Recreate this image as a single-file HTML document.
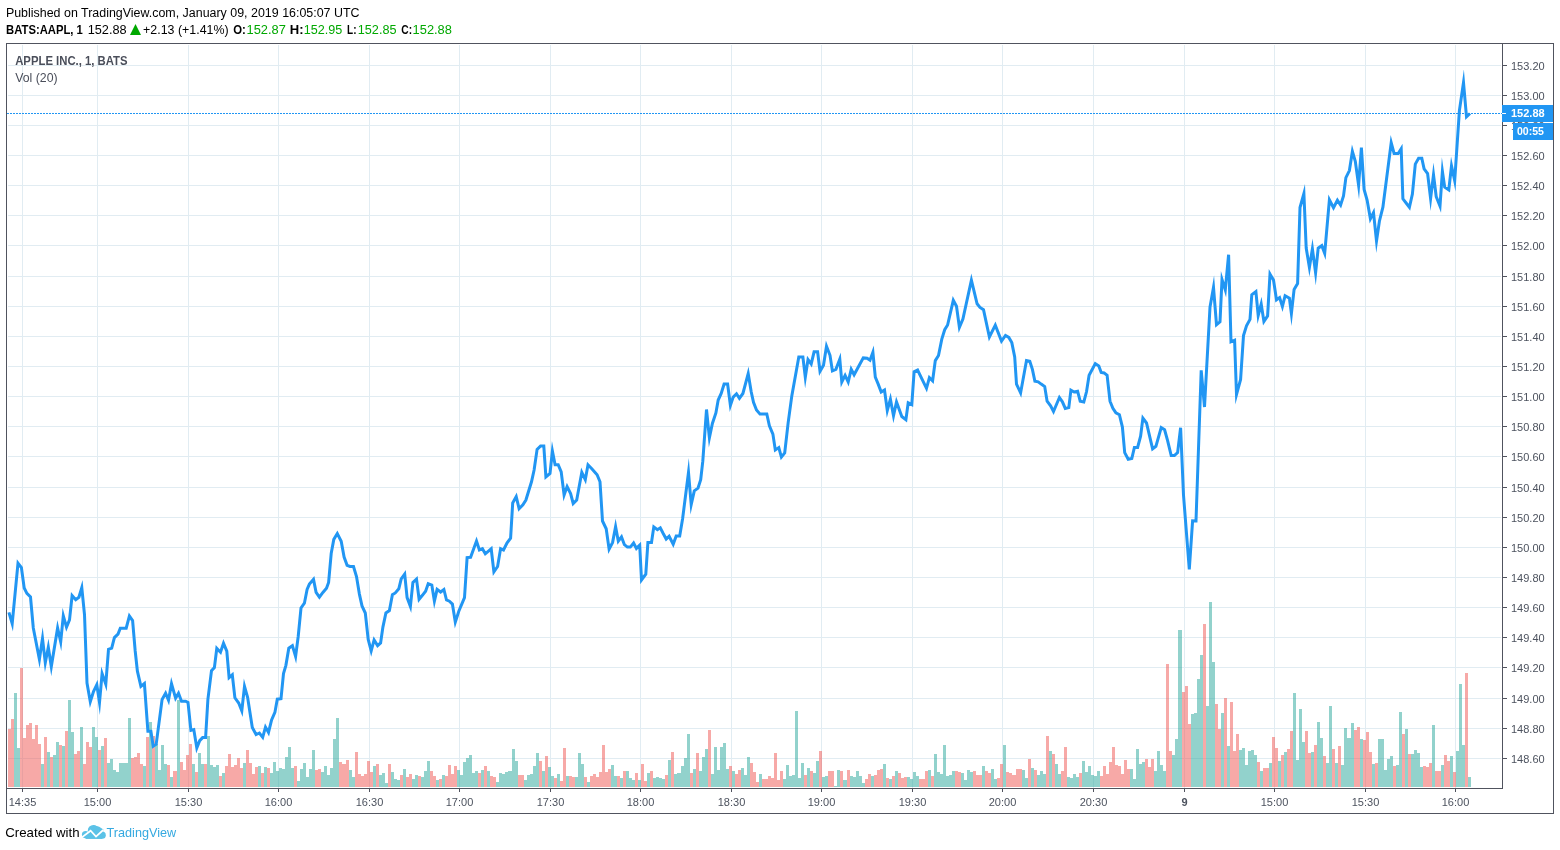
<!DOCTYPE html>
<html><head><meta charset="utf-8">
<style>
html,body{margin:0;padding:0;background:#fff;}
body{width:1560px;height:850px;position:relative;overflow:hidden;font-family:"Liberation Sans",sans-serif;}
.t{position:absolute;white-space:nowrap;color:#000;}
svg.c text{font-family:"Liberation Sans",sans-serif;font-size:11px;}
</style></head><body>
<svg class="c" width="1560" height="850" style="position:absolute;left:0;top:0;will-change:transform">
<rect x="22" y="45" width="1" height="743" fill="#e1ecf2"/>
<rect x="97" y="45" width="1" height="743" fill="#e1ecf2"/>
<rect x="188" y="45" width="1" height="743" fill="#e1ecf2"/>
<rect x="278" y="45" width="1" height="743" fill="#e1ecf2"/>
<rect x="369" y="45" width="1" height="743" fill="#e1ecf2"/>
<rect x="459" y="45" width="1" height="743" fill="#e1ecf2"/>
<rect x="550" y="45" width="1" height="743" fill="#e1ecf2"/>
<rect x="640" y="45" width="1" height="743" fill="#e1ecf2"/>
<rect x="731" y="45" width="1" height="743" fill="#e1ecf2"/>
<rect x="821" y="45" width="1" height="743" fill="#e1ecf2"/>
<rect x="912" y="45" width="1" height="743" fill="#e1ecf2"/>
<rect x="1002" y="45" width="1" height="743" fill="#e1ecf2"/>
<rect x="1093" y="45" width="1" height="743" fill="#e1ecf2"/>
<rect x="1184" y="45" width="1" height="743" fill="#e1ecf2"/>
<rect x="1274" y="45" width="1" height="743" fill="#e1ecf2"/>
<rect x="1365" y="45" width="1" height="743" fill="#e1ecf2"/>
<rect x="1455" y="45" width="1" height="743" fill="#e1ecf2"/>
<rect x="8" y="65" width="1493" height="1" fill="#e1ecf2"/>
<rect x="8" y="95" width="1493" height="1" fill="#e1ecf2"/>
<rect x="8" y="125" width="1493" height="1" fill="#e1ecf2"/>
<rect x="8" y="155" width="1493" height="1" fill="#e1ecf2"/>
<rect x="8" y="185" width="1493" height="1" fill="#e1ecf2"/>
<rect x="8" y="215" width="1493" height="1" fill="#e1ecf2"/>
<rect x="8" y="245" width="1493" height="1" fill="#e1ecf2"/>
<rect x="8" y="276" width="1493" height="1" fill="#e1ecf2"/>
<rect x="8" y="306" width="1493" height="1" fill="#e1ecf2"/>
<rect x="8" y="336" width="1493" height="1" fill="#e1ecf2"/>
<rect x="8" y="366" width="1493" height="1" fill="#e1ecf2"/>
<rect x="8" y="396" width="1493" height="1" fill="#e1ecf2"/>
<rect x="8" y="426" width="1493" height="1" fill="#e1ecf2"/>
<rect x="8" y="456" width="1493" height="1" fill="#e1ecf2"/>
<rect x="8" y="487" width="1493" height="1" fill="#e1ecf2"/>
<rect x="8" y="517" width="1493" height="1" fill="#e1ecf2"/>
<rect x="8" y="547" width="1493" height="1" fill="#e1ecf2"/>
<rect x="8" y="577" width="1493" height="1" fill="#e1ecf2"/>
<rect x="8" y="607" width="1493" height="1" fill="#e1ecf2"/>
<rect x="8" y="637" width="1493" height="1" fill="#e1ecf2"/>
<rect x="8" y="667" width="1493" height="1" fill="#e1ecf2"/>
<rect x="8" y="698" width="1493" height="1" fill="#e1ecf2"/>
<rect x="8" y="728" width="1493" height="1" fill="#e1ecf2"/>
<rect x="8" y="758" width="1493" height="1" fill="#e1ecf2"/>
<rect x="8" y="729" width="3" height="58" fill="rgba(239,83,80,0.5)"/>
<rect x="11" y="719" width="3" height="68" fill="rgba(239,83,80,0.5)"/>
<rect x="14" y="693" width="3" height="94" fill="rgba(38,166,154,0.5)"/>
<rect x="17" y="748" width="3" height="39" fill="rgba(38,166,154,0.5)"/>
<rect x="20" y="668" width="3" height="119" fill="rgba(239,83,80,0.5)"/>
<rect x="23" y="738" width="3" height="49" fill="rgba(239,83,80,0.5)"/>
<rect x="26" y="725" width="3" height="62" fill="rgba(239,83,80,0.5)"/>
<rect x="29" y="723" width="3" height="64" fill="rgba(239,83,80,0.5)"/>
<rect x="32" y="739" width="3" height="48" fill="rgba(239,83,80,0.5)"/>
<rect x="35" y="725" width="3" height="62" fill="rgba(239,83,80,0.5)"/>
<rect x="38" y="744" width="3" height="43" fill="rgba(239,83,80,0.5)"/>
<rect x="41" y="764" width="3" height="23" fill="rgba(38,166,154,0.5)"/>
<rect x="44" y="737" width="3" height="50" fill="rgba(239,83,80,0.5)"/>
<rect x="47" y="752" width="3" height="35" fill="rgba(38,166,154,0.5)"/>
<rect x="50" y="757" width="3" height="30" fill="rgba(239,83,80,0.5)"/>
<rect x="53" y="755" width="3" height="32" fill="rgba(38,166,154,0.5)"/>
<rect x="56" y="742" width="3" height="45" fill="rgba(38,166,154,0.5)"/>
<rect x="59" y="745" width="3" height="42" fill="rgba(239,83,80,0.5)"/>
<rect x="62" y="746" width="3" height="41" fill="rgba(38,166,154,0.5)"/>
<rect x="65" y="731" width="3" height="56" fill="rgba(239,83,80,0.5)"/>
<rect x="68" y="700" width="3" height="87" fill="rgba(38,166,154,0.5)"/>
<rect x="71" y="732" width="3" height="55" fill="rgba(38,166,154,0.5)"/>
<rect x="74" y="754" width="3" height="33" fill="rgba(239,83,80,0.5)"/>
<rect x="77" y="751" width="3" height="36" fill="rgba(239,83,80,0.5)"/>
<rect x="80" y="727" width="3" height="60" fill="rgba(38,166,154,0.5)"/>
<rect x="83" y="764" width="3" height="23" fill="rgba(239,83,80,0.5)"/>
<rect x="86" y="742" width="3" height="45" fill="rgba(239,83,80,0.5)"/>
<rect x="89" y="747" width="3" height="40" fill="rgba(239,83,80,0.5)"/>
<rect x="92" y="727" width="3" height="60" fill="rgba(38,166,154,0.5)"/>
<rect x="95" y="737" width="3" height="50" fill="rgba(38,166,154,0.5)"/>
<rect x="98" y="750" width="3" height="37" fill="rgba(239,83,80,0.5)"/>
<rect x="101" y="746" width="3" height="41" fill="rgba(38,166,154,0.5)"/>
<rect x="104" y="738" width="3" height="49" fill="rgba(239,83,80,0.5)"/>
<rect x="107" y="763" width="3" height="24" fill="rgba(38,166,154,0.5)"/>
<rect x="110" y="759" width="3" height="28" fill="rgba(38,166,154,0.5)"/>
<rect x="113" y="770" width="3" height="17" fill="rgba(38,166,154,0.5)"/>
<rect x="116" y="772" width="3" height="15" fill="rgba(38,166,154,0.5)"/>
<rect x="119" y="763" width="3" height="24" fill="rgba(38,166,154,0.5)"/>
<rect x="122" y="763" width="3" height="24" fill="rgba(38,166,154,0.5)"/>
<rect x="125" y="763" width="3" height="24" fill="rgba(38,166,154,0.5)"/>
<rect x="128" y="718" width="3" height="69" fill="rgba(38,166,154,0.5)"/>
<rect x="131" y="758" width="3" height="29" fill="rgba(239,83,80,0.5)"/>
<rect x="134" y="757" width="3" height="30" fill="rgba(239,83,80,0.5)"/>
<rect x="137" y="753" width="3" height="34" fill="rgba(239,83,80,0.5)"/>
<rect x="140" y="764" width="3" height="23" fill="rgba(239,83,80,0.5)"/>
<rect x="143" y="766" width="3" height="21" fill="rgba(38,166,154,0.5)"/>
<rect x="146" y="737" width="3" height="50" fill="rgba(239,83,80,0.5)"/>
<rect x="149" y="722" width="3" height="65" fill="rgba(38,166,154,0.5)"/>
<rect x="152" y="736" width="3" height="51" fill="rgba(239,83,80,0.5)"/>
<rect x="155" y="744" width="3" height="43" fill="rgba(38,166,154,0.5)"/>
<rect x="158" y="770" width="3" height="17" fill="rgba(38,166,154,0.5)"/>
<rect x="161" y="745" width="3" height="42" fill="rgba(38,166,154,0.5)"/>
<rect x="164" y="764" width="3" height="23" fill="rgba(38,166,154,0.5)"/>
<rect x="167" y="765" width="3" height="22" fill="rgba(239,83,80,0.5)"/>
<rect x="170" y="777" width="3" height="10" fill="rgba(38,166,154,0.5)"/>
<rect x="173" y="771" width="4" height="16" fill="rgba(239,83,80,0.5)"/>
<rect x="177" y="700" width="3" height="87" fill="rgba(38,166,154,0.5)"/>
<rect x="180" y="762" width="3" height="25" fill="rgba(239,83,80,0.5)"/>
<rect x="183" y="770" width="3" height="17" fill="rgba(239,83,80,0.5)"/>
<rect x="186" y="755" width="3" height="32" fill="rgba(239,83,80,0.5)"/>
<rect x="189" y="744" width="3" height="43" fill="rgba(239,83,80,0.5)"/>
<rect x="192" y="764" width="3" height="23" fill="rgba(38,166,154,0.5)"/>
<rect x="195" y="772" width="3" height="15" fill="rgba(239,83,80,0.5)"/>
<rect x="198" y="753" width="3" height="34" fill="rgba(38,166,154,0.5)"/>
<rect x="201" y="764" width="3" height="23" fill="rgba(38,166,154,0.5)"/>
<rect x="204" y="764" width="3" height="23" fill="rgba(239,83,80,0.5)"/>
<rect x="207" y="736" width="3" height="51" fill="rgba(38,166,154,0.5)"/>
<rect x="210" y="765" width="3" height="22" fill="rgba(38,166,154,0.5)"/>
<rect x="213" y="767" width="3" height="20" fill="rgba(38,166,154,0.5)"/>
<rect x="216" y="765" width="3" height="22" fill="rgba(38,166,154,0.5)"/>
<rect x="219" y="776" width="3" height="11" fill="rgba(239,83,80,0.5)"/>
<rect x="222" y="773" width="3" height="14" fill="rgba(38,166,154,0.5)"/>
<rect x="225" y="766" width="3" height="21" fill="rgba(239,83,80,0.5)"/>
<rect x="228" y="754" width="3" height="33" fill="rgba(239,83,80,0.5)"/>
<rect x="231" y="767" width="3" height="20" fill="rgba(239,83,80,0.5)"/>
<rect x="234" y="765" width="3" height="22" fill="rgba(239,83,80,0.5)"/>
<rect x="237" y="758" width="3" height="29" fill="rgba(239,83,80,0.5)"/>
<rect x="240" y="768" width="3" height="19" fill="rgba(239,83,80,0.5)"/>
<rect x="243" y="763" width="3" height="24" fill="rgba(38,166,154,0.5)"/>
<rect x="246" y="750" width="3" height="37" fill="rgba(239,83,80,0.5)"/>
<rect x="249" y="763" width="3" height="24" fill="rgba(239,83,80,0.5)"/>
<rect x="252" y="774" width="3" height="13" fill="rgba(239,83,80,0.5)"/>
<rect x="255" y="767" width="3" height="20" fill="rgba(239,83,80,0.5)"/>
<rect x="258" y="766" width="3" height="21" fill="rgba(38,166,154,0.5)"/>
<rect x="261" y="773" width="3" height="14" fill="rgba(239,83,80,0.5)"/>
<rect x="264" y="767" width="3" height="20" fill="rgba(38,166,154,0.5)"/>
<rect x="267" y="768" width="3" height="19" fill="rgba(239,83,80,0.5)"/>
<rect x="270" y="773" width="3" height="14" fill="rgba(38,166,154,0.5)"/>
<rect x="273" y="762" width="3" height="25" fill="rgba(38,166,154,0.5)"/>
<rect x="276" y="771" width="3" height="16" fill="rgba(38,166,154,0.5)"/>
<rect x="279" y="768" width="3" height="19" fill="rgba(38,166,154,0.5)"/>
<rect x="282" y="769" width="3" height="18" fill="rgba(38,166,154,0.5)"/>
<rect x="285" y="757" width="3" height="30" fill="rgba(38,166,154,0.5)"/>
<rect x="288" y="747" width="3" height="40" fill="rgba(38,166,154,0.5)"/>
<rect x="291" y="768" width="3" height="19" fill="rgba(38,166,154,0.5)"/>
<rect x="294" y="766" width="3" height="21" fill="rgba(239,83,80,0.5)"/>
<rect x="297" y="781" width="3" height="6" fill="rgba(38,166,154,0.5)"/>
<rect x="300" y="769" width="3" height="18" fill="rgba(38,166,154,0.5)"/>
<rect x="303" y="763" width="3" height="24" fill="rgba(38,166,154,0.5)"/>
<rect x="306" y="777" width="3" height="10" fill="rgba(38,166,154,0.5)"/>
<rect x="309" y="769" width="3" height="18" fill="rgba(38,166,154,0.5)"/>
<rect x="312" y="750" width="3" height="37" fill="rgba(38,166,154,0.5)"/>
<rect x="315" y="770" width="3" height="17" fill="rgba(239,83,80,0.5)"/>
<rect x="318" y="769" width="3" height="18" fill="rgba(239,83,80,0.5)"/>
<rect x="321" y="772" width="3" height="15" fill="rgba(38,166,154,0.5)"/>
<rect x="324" y="766" width="3" height="21" fill="rgba(38,166,154,0.5)"/>
<rect x="327" y="775" width="3" height="12" fill="rgba(38,166,154,0.5)"/>
<rect x="330" y="768" width="3" height="19" fill="rgba(38,166,154,0.5)"/>
<rect x="333" y="739" width="3" height="48" fill="rgba(38,166,154,0.5)"/>
<rect x="336" y="718" width="3" height="69" fill="rgba(38,166,154,0.5)"/>
<rect x="339" y="762" width="3" height="25" fill="rgba(239,83,80,0.5)"/>
<rect x="342" y="764" width="4" height="23" fill="rgba(239,83,80,0.5)"/>
<rect x="346" y="760" width="3" height="27" fill="rgba(239,83,80,0.5)"/>
<rect x="349" y="770" width="3" height="17" fill="rgba(38,166,154,0.5)"/>
<rect x="352" y="777" width="3" height="10" fill="rgba(38,166,154,0.5)"/>
<rect x="355" y="752" width="3" height="35" fill="rgba(239,83,80,0.5)"/>
<rect x="358" y="774" width="3" height="13" fill="rgba(239,83,80,0.5)"/>
<rect x="361" y="776" width="3" height="11" fill="rgba(239,83,80,0.5)"/>
<rect x="364" y="774" width="3" height="13" fill="rgba(239,83,80,0.5)"/>
<rect x="367" y="761" width="3" height="26" fill="rgba(239,83,80,0.5)"/>
<rect x="370" y="772" width="3" height="15" fill="rgba(239,83,80,0.5)"/>
<rect x="373" y="766" width="3" height="21" fill="rgba(38,166,154,0.5)"/>
<rect x="376" y="764" width="3" height="23" fill="rgba(239,83,80,0.5)"/>
<rect x="379" y="775" width="3" height="12" fill="rgba(38,166,154,0.5)"/>
<rect x="382" y="773" width="3" height="14" fill="rgba(38,166,154,0.5)"/>
<rect x="385" y="783" width="3" height="4" fill="rgba(38,166,154,0.5)"/>
<rect x="388" y="764" width="3" height="23" fill="rgba(239,83,80,0.5)"/>
<rect x="391" y="772" width="3" height="15" fill="rgba(38,166,154,0.5)"/>
<rect x="394" y="779" width="3" height="8" fill="rgba(38,166,154,0.5)"/>
<rect x="397" y="780" width="3" height="7" fill="rgba(38,166,154,0.5)"/>
<rect x="400" y="775" width="3" height="12" fill="rgba(239,83,80,0.5)"/>
<rect x="403" y="769" width="3" height="18" fill="rgba(38,166,154,0.5)"/>
<rect x="406" y="777" width="3" height="10" fill="rgba(239,83,80,0.5)"/>
<rect x="409" y="774" width="3" height="13" fill="rgba(239,83,80,0.5)"/>
<rect x="412" y="779" width="3" height="8" fill="rgba(38,166,154,0.5)"/>
<rect x="415" y="775" width="3" height="12" fill="rgba(38,166,154,0.5)"/>
<rect x="418" y="776" width="3" height="11" fill="rgba(239,83,80,0.5)"/>
<rect x="421" y="777" width="3" height="10" fill="rgba(38,166,154,0.5)"/>
<rect x="424" y="771" width="3" height="16" fill="rgba(38,166,154,0.5)"/>
<rect x="427" y="761" width="3" height="26" fill="rgba(38,166,154,0.5)"/>
<rect x="430" y="771" width="3" height="16" fill="rgba(239,83,80,0.5)"/>
<rect x="433" y="776" width="3" height="11" fill="rgba(239,83,80,0.5)"/>
<rect x="436" y="780" width="3" height="7" fill="rgba(38,166,154,0.5)"/>
<rect x="439" y="779" width="3" height="8" fill="rgba(239,83,80,0.5)"/>
<rect x="442" y="775" width="3" height="12" fill="rgba(38,166,154,0.5)"/>
<rect x="445" y="776" width="3" height="11" fill="rgba(239,83,80,0.5)"/>
<rect x="448" y="765" width="3" height="22" fill="rgba(239,83,80,0.5)"/>
<rect x="451" y="774" width="3" height="13" fill="rgba(239,83,80,0.5)"/>
<rect x="454" y="766" width="3" height="21" fill="rgba(239,83,80,0.5)"/>
<rect x="457" y="770" width="3" height="17" fill="rgba(38,166,154,0.5)"/>
<rect x="460" y="775" width="3" height="12" fill="rgba(38,166,154,0.5)"/>
<rect x="463" y="762" width="3" height="25" fill="rgba(38,166,154,0.5)"/>
<rect x="466" y="758" width="3" height="29" fill="rgba(38,166,154,0.5)"/>
<rect x="469" y="755" width="3" height="32" fill="rgba(38,166,154,0.5)"/>
<rect x="472" y="773" width="3" height="14" fill="rgba(38,166,154,0.5)"/>
<rect x="475" y="771" width="3" height="16" fill="rgba(38,166,154,0.5)"/>
<rect x="478" y="773" width="3" height="14" fill="rgba(239,83,80,0.5)"/>
<rect x="481" y="770" width="3" height="17" fill="rgba(38,166,154,0.5)"/>
<rect x="484" y="766" width="3" height="21" fill="rgba(239,83,80,0.5)"/>
<rect x="487" y="771" width="3" height="16" fill="rgba(38,166,154,0.5)"/>
<rect x="490" y="776" width="3" height="11" fill="rgba(239,83,80,0.5)"/>
<rect x="493" y="777" width="3" height="10" fill="rgba(239,83,80,0.5)"/>
<rect x="496" y="782" width="3" height="5" fill="rgba(38,166,154,0.5)"/>
<rect x="499" y="773" width="3" height="14" fill="rgba(38,166,154,0.5)"/>
<rect x="502" y="774" width="3" height="13" fill="rgba(38,166,154,0.5)"/>
<rect x="505" y="772" width="3" height="15" fill="rgba(38,166,154,0.5)"/>
<rect x="508" y="771" width="4" height="16" fill="rgba(38,166,154,0.5)"/>
<rect x="512" y="749" width="3" height="38" fill="rgba(38,166,154,0.5)"/>
<rect x="515" y="761" width="3" height="26" fill="rgba(38,166,154,0.5)"/>
<rect x="518" y="775" width="3" height="12" fill="rgba(239,83,80,0.5)"/>
<rect x="521" y="775" width="3" height="12" fill="rgba(239,83,80,0.5)"/>
<rect x="524" y="780" width="3" height="7" fill="rgba(38,166,154,0.5)"/>
<rect x="527" y="775" width="3" height="12" fill="rgba(38,166,154,0.5)"/>
<rect x="530" y="774" width="3" height="13" fill="rgba(38,166,154,0.5)"/>
<rect x="533" y="766" width="3" height="21" fill="rgba(38,166,154,0.5)"/>
<rect x="536" y="753" width="3" height="34" fill="rgba(38,166,154,0.5)"/>
<rect x="539" y="761" width="3" height="26" fill="rgba(239,83,80,0.5)"/>
<rect x="542" y="771" width="3" height="16" fill="rgba(38,166,154,0.5)"/>
<rect x="545" y="756" width="3" height="31" fill="rgba(239,83,80,0.5)"/>
<rect x="548" y="767" width="3" height="20" fill="rgba(38,166,154,0.5)"/>
<rect x="551" y="776" width="3" height="11" fill="rgba(38,166,154,0.5)"/>
<rect x="554" y="778" width="3" height="9" fill="rgba(239,83,80,0.5)"/>
<rect x="557" y="774" width="3" height="13" fill="rgba(38,166,154,0.5)"/>
<rect x="560" y="781" width="3" height="6" fill="rgba(239,83,80,0.5)"/>
<rect x="563" y="748" width="3" height="39" fill="rgba(239,83,80,0.5)"/>
<rect x="566" y="776" width="3" height="11" fill="rgba(38,166,154,0.5)"/>
<rect x="569" y="776" width="3" height="11" fill="rgba(239,83,80,0.5)"/>
<rect x="572" y="777" width="3" height="10" fill="rgba(239,83,80,0.5)"/>
<rect x="575" y="777" width="3" height="10" fill="rgba(38,166,154,0.5)"/>
<rect x="578" y="753" width="3" height="34" fill="rgba(38,166,154,0.5)"/>
<rect x="581" y="764" width="3" height="23" fill="rgba(38,166,154,0.5)"/>
<rect x="584" y="777" width="3" height="10" fill="rgba(239,83,80,0.5)"/>
<rect x="587" y="782" width="3" height="5" fill="rgba(38,166,154,0.5)"/>
<rect x="590" y="776" width="3" height="11" fill="rgba(239,83,80,0.5)"/>
<rect x="593" y="774" width="3" height="13" fill="rgba(239,83,80,0.5)"/>
<rect x="596" y="777" width="3" height="10" fill="rgba(239,83,80,0.5)"/>
<rect x="599" y="772" width="3" height="15" fill="rgba(239,83,80,0.5)"/>
<rect x="602" y="745" width="3" height="42" fill="rgba(239,83,80,0.5)"/>
<rect x="605" y="772" width="3" height="15" fill="rgba(239,83,80,0.5)"/>
<rect x="608" y="769" width="3" height="18" fill="rgba(239,83,80,0.5)"/>
<rect x="611" y="765" width="3" height="22" fill="rgba(38,166,154,0.5)"/>
<rect x="614" y="776" width="3" height="11" fill="rgba(38,166,154,0.5)"/>
<rect x="617" y="776" width="3" height="11" fill="rgba(239,83,80,0.5)"/>
<rect x="620" y="778" width="3" height="9" fill="rgba(38,166,154,0.5)"/>
<rect x="623" y="771" width="3" height="16" fill="rgba(239,83,80,0.5)"/>
<rect x="626" y="771" width="3" height="16" fill="rgba(38,166,154,0.5)"/>
<rect x="629" y="778" width="3" height="9" fill="rgba(38,166,154,0.5)"/>
<rect x="632" y="780" width="3" height="7" fill="rgba(38,166,154,0.5)"/>
<rect x="635" y="773" width="3" height="14" fill="rgba(239,83,80,0.5)"/>
<rect x="638" y="780" width="3" height="7" fill="rgba(38,166,154,0.5)"/>
<rect x="641" y="764" width="3" height="23" fill="rgba(239,83,80,0.5)"/>
<rect x="644" y="781" width="3" height="6" fill="rgba(239,83,80,0.5)"/>
<rect x="647" y="773" width="3" height="14" fill="rgba(38,166,154,0.5)"/>
<rect x="650" y="771" width="3" height="16" fill="rgba(239,83,80,0.5)"/>
<rect x="653" y="778" width="3" height="9" fill="rgba(38,166,154,0.5)"/>
<rect x="656" y="777" width="3" height="10" fill="rgba(38,166,154,0.5)"/>
<rect x="659" y="778" width="3" height="9" fill="rgba(38,166,154,0.5)"/>
<rect x="662" y="779" width="3" height="8" fill="rgba(38,166,154,0.5)"/>
<rect x="665" y="775" width="3" height="12" fill="rgba(239,83,80,0.5)"/>
<rect x="668" y="760" width="3" height="27" fill="rgba(38,166,154,0.5)"/>
<rect x="671" y="752" width="3" height="35" fill="rgba(239,83,80,0.5)"/>
<rect x="674" y="774" width="3" height="13" fill="rgba(38,166,154,0.5)"/>
<rect x="677" y="773" width="4" height="14" fill="rgba(38,166,154,0.5)"/>
<rect x="681" y="766" width="3" height="21" fill="rgba(38,166,154,0.5)"/>
<rect x="684" y="758" width="3" height="29" fill="rgba(38,166,154,0.5)"/>
<rect x="687" y="734" width="3" height="53" fill="rgba(38,166,154,0.5)"/>
<rect x="690" y="773" width="3" height="14" fill="rgba(239,83,80,0.5)"/>
<rect x="693" y="769" width="3" height="18" fill="rgba(38,166,154,0.5)"/>
<rect x="696" y="753" width="3" height="34" fill="rgba(239,83,80,0.5)"/>
<rect x="699" y="771" width="3" height="16" fill="rgba(38,166,154,0.5)"/>
<rect x="702" y="757" width="3" height="30" fill="rgba(38,166,154,0.5)"/>
<rect x="705" y="749" width="3" height="38" fill="rgba(38,166,154,0.5)"/>
<rect x="708" y="730" width="3" height="57" fill="rgba(239,83,80,0.5)"/>
<rect x="711" y="774" width="3" height="13" fill="rgba(38,166,154,0.5)"/>
<rect x="714" y="747" width="3" height="40" fill="rgba(38,166,154,0.5)"/>
<rect x="717" y="770" width="3" height="17" fill="rgba(38,166,154,0.5)"/>
<rect x="720" y="747" width="3" height="40" fill="rgba(38,166,154,0.5)"/>
<rect x="723" y="743" width="3" height="44" fill="rgba(38,166,154,0.5)"/>
<rect x="726" y="769" width="3" height="18" fill="rgba(38,166,154,0.5)"/>
<rect x="729" y="766" width="3" height="21" fill="rgba(239,83,80,0.5)"/>
<rect x="732" y="771" width="3" height="16" fill="rgba(38,166,154,0.5)"/>
<rect x="735" y="774" width="3" height="13" fill="rgba(239,83,80,0.5)"/>
<rect x="738" y="770" width="3" height="17" fill="rgba(239,83,80,0.5)"/>
<rect x="741" y="768" width="3" height="19" fill="rgba(38,166,154,0.5)"/>
<rect x="744" y="775" width="3" height="12" fill="rgba(38,166,154,0.5)"/>
<rect x="747" y="757" width="3" height="30" fill="rgba(38,166,154,0.5)"/>
<rect x="750" y="763" width="3" height="24" fill="rgba(239,83,80,0.5)"/>
<rect x="753" y="772" width="3" height="15" fill="rgba(239,83,80,0.5)"/>
<rect x="756" y="782" width="3" height="5" fill="rgba(239,83,80,0.5)"/>
<rect x="759" y="774" width="3" height="13" fill="rgba(38,166,154,0.5)"/>
<rect x="762" y="779" width="3" height="8" fill="rgba(239,83,80,0.5)"/>
<rect x="765" y="779" width="3" height="8" fill="rgba(239,83,80,0.5)"/>
<rect x="768" y="776" width="3" height="11" fill="rgba(239,83,80,0.5)"/>
<rect x="771" y="778" width="3" height="9" fill="rgba(239,83,80,0.5)"/>
<rect x="774" y="753" width="3" height="34" fill="rgba(239,83,80,0.5)"/>
<rect x="777" y="780" width="3" height="7" fill="rgba(239,83,80,0.5)"/>
<rect x="780" y="771" width="3" height="16" fill="rgba(239,83,80,0.5)"/>
<rect x="783" y="779" width="3" height="8" fill="rgba(38,166,154,0.5)"/>
<rect x="786" y="765" width="3" height="22" fill="rgba(38,166,154,0.5)"/>
<rect x="789" y="776" width="3" height="11" fill="rgba(38,166,154,0.5)"/>
<rect x="792" y="775" width="3" height="12" fill="rgba(38,166,154,0.5)"/>
<rect x="795" y="711" width="3" height="76" fill="rgba(38,166,154,0.5)"/>
<rect x="798" y="778" width="3" height="9" fill="rgba(38,166,154,0.5)"/>
<rect x="801" y="763" width="3" height="24" fill="rgba(38,166,154,0.5)"/>
<rect x="804" y="775" width="3" height="12" fill="rgba(239,83,80,0.5)"/>
<rect x="807" y="768" width="3" height="19" fill="rgba(38,166,154,0.5)"/>
<rect x="810" y="771" width="3" height="16" fill="rgba(239,83,80,0.5)"/>
<rect x="813" y="773" width="3" height="14" fill="rgba(38,166,154,0.5)"/>
<rect x="816" y="761" width="3" height="26" fill="rgba(38,166,154,0.5)"/>
<rect x="819" y="751" width="3" height="36" fill="rgba(239,83,80,0.5)"/>
<rect x="822" y="777" width="3" height="10" fill="rgba(38,166,154,0.5)"/>
<rect x="825" y="776" width="3" height="11" fill="rgba(38,166,154,0.5)"/>
<rect x="828" y="771" width="3" height="16" fill="rgba(239,83,80,0.5)"/>
<rect x="831" y="771" width="3" height="16" fill="rgba(239,83,80,0.5)"/>
<rect x="834" y="786" width="3" height="1" fill="rgba(38,166,154,0.5)"/>
<rect x="837" y="770" width="3" height="17" fill="rgba(38,166,154,0.5)"/>
<rect x="840" y="771" width="3" height="16" fill="rgba(239,83,80,0.5)"/>
<rect x="843" y="780" width="4" height="7" fill="rgba(38,166,154,0.5)"/>
<rect x="847" y="770" width="3" height="17" fill="rgba(239,83,80,0.5)"/>
<rect x="850" y="776" width="3" height="11" fill="rgba(38,166,154,0.5)"/>
<rect x="853" y="777" width="3" height="10" fill="rgba(38,166,154,0.5)"/>
<rect x="856" y="771" width="3" height="16" fill="rgba(38,166,154,0.5)"/>
<rect x="859" y="776" width="3" height="11" fill="rgba(38,166,154,0.5)"/>
<rect x="862" y="783" width="3" height="4" fill="rgba(38,166,154,0.5)"/>
<rect x="865" y="779" width="3" height="8" fill="rgba(239,83,80,0.5)"/>
<rect x="868" y="774" width="3" height="13" fill="rgba(239,83,80,0.5)"/>
<rect x="871" y="776" width="3" height="11" fill="rgba(38,166,154,0.5)"/>
<rect x="874" y="775" width="3" height="12" fill="rgba(239,83,80,0.5)"/>
<rect x="877" y="770" width="3" height="17" fill="rgba(239,83,80,0.5)"/>
<rect x="880" y="769" width="3" height="18" fill="rgba(239,83,80,0.5)"/>
<rect x="883" y="764" width="3" height="23" fill="rgba(38,166,154,0.5)"/>
<rect x="886" y="778" width="3" height="9" fill="rgba(239,83,80,0.5)"/>
<rect x="889" y="779" width="3" height="8" fill="rgba(38,166,154,0.5)"/>
<rect x="892" y="776" width="3" height="11" fill="rgba(239,83,80,0.5)"/>
<rect x="895" y="771" width="3" height="16" fill="rgba(38,166,154,0.5)"/>
<rect x="898" y="773" width="3" height="14" fill="rgba(239,83,80,0.5)"/>
<rect x="901" y="778" width="3" height="9" fill="rgba(239,83,80,0.5)"/>
<rect x="904" y="777" width="3" height="10" fill="rgba(239,83,80,0.5)"/>
<rect x="907" y="777" width="3" height="10" fill="rgba(38,166,154,0.5)"/>
<rect x="910" y="779" width="3" height="8" fill="rgba(38,166,154,0.5)"/>
<rect x="913" y="772" width="3" height="15" fill="rgba(38,166,154,0.5)"/>
<rect x="916" y="776" width="3" height="11" fill="rgba(38,166,154,0.5)"/>
<rect x="919" y="779" width="3" height="8" fill="rgba(239,83,80,0.5)"/>
<rect x="922" y="779" width="3" height="8" fill="rgba(239,83,80,0.5)"/>
<rect x="925" y="771" width="3" height="16" fill="rgba(239,83,80,0.5)"/>
<rect x="928" y="770" width="3" height="17" fill="rgba(38,166,154,0.5)"/>
<rect x="931" y="776" width="3" height="11" fill="rgba(239,83,80,0.5)"/>
<rect x="934" y="754" width="3" height="33" fill="rgba(38,166,154,0.5)"/>
<rect x="937" y="772" width="3" height="15" fill="rgba(38,166,154,0.5)"/>
<rect x="940" y="774" width="3" height="13" fill="rgba(38,166,154,0.5)"/>
<rect x="943" y="745" width="3" height="42" fill="rgba(38,166,154,0.5)"/>
<rect x="946" y="776" width="3" height="11" fill="rgba(38,166,154,0.5)"/>
<rect x="949" y="775" width="3" height="12" fill="rgba(38,166,154,0.5)"/>
<rect x="952" y="771" width="3" height="16" fill="rgba(38,166,154,0.5)"/>
<rect x="955" y="771" width="3" height="16" fill="rgba(239,83,80,0.5)"/>
<rect x="958" y="772" width="3" height="15" fill="rgba(239,83,80,0.5)"/>
<rect x="961" y="773" width="3" height="14" fill="rgba(38,166,154,0.5)"/>
<rect x="964" y="780" width="3" height="7" fill="rgba(38,166,154,0.5)"/>
<rect x="967" y="770" width="3" height="17" fill="rgba(38,166,154,0.5)"/>
<rect x="970" y="772" width="3" height="15" fill="rgba(38,166,154,0.5)"/>
<rect x="973" y="771" width="3" height="16" fill="rgba(239,83,80,0.5)"/>
<rect x="976" y="775" width="3" height="12" fill="rgba(239,83,80,0.5)"/>
<rect x="979" y="775" width="3" height="12" fill="rgba(239,83,80,0.5)"/>
<rect x="982" y="766" width="3" height="21" fill="rgba(38,166,154,0.5)"/>
<rect x="985" y="771" width="3" height="16" fill="rgba(239,83,80,0.5)"/>
<rect x="988" y="773" width="3" height="14" fill="rgba(239,83,80,0.5)"/>
<rect x="991" y="769" width="3" height="18" fill="rgba(38,166,154,0.5)"/>
<rect x="994" y="779" width="3" height="8" fill="rgba(38,166,154,0.5)"/>
<rect x="997" y="778" width="3" height="9" fill="rgba(239,83,80,0.5)"/>
<rect x="1000" y="764" width="3" height="23" fill="rgba(239,83,80,0.5)"/>
<rect x="1003" y="745" width="3" height="42" fill="rgba(38,166,154,0.5)"/>
<rect x="1006" y="772" width="3" height="15" fill="rgba(239,83,80,0.5)"/>
<rect x="1009" y="773" width="3" height="14" fill="rgba(239,83,80,0.5)"/>
<rect x="1012" y="775" width="4" height="12" fill="rgba(239,83,80,0.5)"/>
<rect x="1016" y="769" width="3" height="18" fill="rgba(239,83,80,0.5)"/>
<rect x="1019" y="769" width="3" height="18" fill="rgba(239,83,80,0.5)"/>
<rect x="1022" y="770" width="3" height="17" fill="rgba(38,166,154,0.5)"/>
<rect x="1025" y="778" width="3" height="9" fill="rgba(38,166,154,0.5)"/>
<rect x="1028" y="759" width="3" height="28" fill="rgba(239,83,80,0.5)"/>
<rect x="1031" y="768" width="3" height="19" fill="rgba(38,166,154,0.5)"/>
<rect x="1034" y="770" width="3" height="17" fill="rgba(239,83,80,0.5)"/>
<rect x="1037" y="775" width="3" height="12" fill="rgba(38,166,154,0.5)"/>
<rect x="1040" y="771" width="3" height="16" fill="rgba(38,166,154,0.5)"/>
<rect x="1043" y="774" width="3" height="13" fill="rgba(38,166,154,0.5)"/>
<rect x="1046" y="736" width="3" height="51" fill="rgba(239,83,80,0.5)"/>
<rect x="1049" y="751" width="3" height="36" fill="rgba(38,166,154,0.5)"/>
<rect x="1052" y="754" width="3" height="33" fill="rgba(239,83,80,0.5)"/>
<rect x="1055" y="764" width="3" height="23" fill="rgba(38,166,154,0.5)"/>
<rect x="1058" y="774" width="3" height="13" fill="rgba(38,166,154,0.5)"/>
<rect x="1061" y="771" width="3" height="16" fill="rgba(239,83,80,0.5)"/>
<rect x="1064" y="747" width="3" height="40" fill="rgba(239,83,80,0.5)"/>
<rect x="1067" y="777" width="3" height="10" fill="rgba(38,166,154,0.5)"/>
<rect x="1070" y="778" width="3" height="9" fill="rgba(38,166,154,0.5)"/>
<rect x="1073" y="774" width="3" height="13" fill="rgba(38,166,154,0.5)"/>
<rect x="1076" y="777" width="3" height="10" fill="rgba(38,166,154,0.5)"/>
<rect x="1079" y="773" width="3" height="14" fill="rgba(239,83,80,0.5)"/>
<rect x="1082" y="761" width="3" height="26" fill="rgba(38,166,154,0.5)"/>
<rect x="1085" y="772" width="3" height="15" fill="rgba(38,166,154,0.5)"/>
<rect x="1088" y="766" width="3" height="21" fill="rgba(38,166,154,0.5)"/>
<rect x="1091" y="775" width="3" height="12" fill="rgba(38,166,154,0.5)"/>
<rect x="1094" y="776" width="3" height="11" fill="rgba(38,166,154,0.5)"/>
<rect x="1097" y="771" width="3" height="16" fill="rgba(38,166,154,0.5)"/>
<rect x="1100" y="776" width="3" height="11" fill="rgba(239,83,80,0.5)"/>
<rect x="1103" y="766" width="3" height="21" fill="rgba(239,83,80,0.5)"/>
<rect x="1106" y="774" width="3" height="13" fill="rgba(239,83,80,0.5)"/>
<rect x="1109" y="762" width="3" height="25" fill="rgba(239,83,80,0.5)"/>
<rect x="1112" y="747" width="3" height="40" fill="rgba(239,83,80,0.5)"/>
<rect x="1115" y="765" width="3" height="22" fill="rgba(239,83,80,0.5)"/>
<rect x="1118" y="766" width="3" height="21" fill="rgba(239,83,80,0.5)"/>
<rect x="1121" y="774" width="3" height="13" fill="rgba(239,83,80,0.5)"/>
<rect x="1124" y="760" width="3" height="27" fill="rgba(239,83,80,0.5)"/>
<rect x="1127" y="769" width="3" height="18" fill="rgba(239,83,80,0.5)"/>
<rect x="1130" y="769" width="3" height="18" fill="rgba(38,166,154,0.5)"/>
<rect x="1133" y="779" width="3" height="8" fill="rgba(38,166,154,0.5)"/>
<rect x="1136" y="749" width="3" height="38" fill="rgba(38,166,154,0.5)"/>
<rect x="1139" y="764" width="3" height="23" fill="rgba(38,166,154,0.5)"/>
<rect x="1142" y="762" width="3" height="25" fill="rgba(38,166,154,0.5)"/>
<rect x="1145" y="759" width="3" height="28" fill="rgba(239,83,80,0.5)"/>
<rect x="1148" y="767" width="3" height="20" fill="rgba(239,83,80,0.5)"/>
<rect x="1151" y="759" width="3" height="28" fill="rgba(239,83,80,0.5)"/>
<rect x="1154" y="771" width="3" height="16" fill="rgba(38,166,154,0.5)"/>
<rect x="1157" y="751" width="3" height="36" fill="rgba(38,166,154,0.5)"/>
<rect x="1160" y="765" width="3" height="22" fill="rgba(38,166,154,0.5)"/>
<rect x="1163" y="771" width="3" height="16" fill="rgba(38,166,154,0.5)"/>
<rect x="1166" y="664" width="3" height="123" fill="rgba(239,83,80,0.5)"/>
<rect x="1169" y="751" width="3" height="36" fill="rgba(239,83,80,0.5)"/>
<rect x="1172" y="755" width="3" height="32" fill="rgba(38,166,154,0.5)"/>
<rect x="1175" y="739" width="3" height="48" fill="rgba(38,166,154,0.5)"/>
<rect x="1178" y="630" width="4" height="157" fill="rgba(38,166,154,0.5)"/>
<rect x="1182" y="692" width="3" height="95" fill="rgba(239,83,80,0.5)"/>
<rect x="1185" y="686" width="3" height="101" fill="rgba(239,83,80,0.5)"/>
<rect x="1188" y="724" width="3" height="63" fill="rgba(239,83,80,0.5)"/>
<rect x="1191" y="714" width="3" height="73" fill="rgba(38,166,154,0.5)"/>
<rect x="1194" y="713" width="3" height="74" fill="rgba(38,166,154,0.5)"/>
<rect x="1197" y="679" width="3" height="108" fill="rgba(38,166,154,0.5)"/>
<rect x="1200" y="655" width="3" height="132" fill="rgba(38,166,154,0.5)"/>
<rect x="1203" y="624" width="3" height="163" fill="rgba(239,83,80,0.5)"/>
<rect x="1206" y="706" width="3" height="81" fill="rgba(38,166,154,0.5)"/>
<rect x="1209" y="602" width="3" height="185" fill="rgba(38,166,154,0.5)"/>
<rect x="1212" y="662" width="3" height="125" fill="rgba(38,166,154,0.5)"/>
<rect x="1215" y="704" width="3" height="83" fill="rgba(239,83,80,0.5)"/>
<rect x="1218" y="729" width="3" height="58" fill="rgba(239,83,80,0.5)"/>
<rect x="1221" y="713" width="3" height="74" fill="rgba(38,166,154,0.5)"/>
<rect x="1224" y="698" width="3" height="89" fill="rgba(239,83,80,0.5)"/>
<rect x="1227" y="746" width="3" height="41" fill="rgba(38,166,154,0.5)"/>
<rect x="1230" y="702" width="3" height="85" fill="rgba(239,83,80,0.5)"/>
<rect x="1233" y="751" width="3" height="36" fill="rgba(239,83,80,0.5)"/>
<rect x="1236" y="734" width="3" height="53" fill="rgba(239,83,80,0.5)"/>
<rect x="1239" y="750" width="3" height="37" fill="rgba(38,166,154,0.5)"/>
<rect x="1242" y="748" width="3" height="39" fill="rgba(38,166,154,0.5)"/>
<rect x="1245" y="765" width="3" height="22" fill="rgba(38,166,154,0.5)"/>
<rect x="1248" y="751" width="3" height="36" fill="rgba(38,166,154,0.5)"/>
<rect x="1251" y="750" width="3" height="37" fill="rgba(38,166,154,0.5)"/>
<rect x="1254" y="755" width="3" height="32" fill="rgba(38,166,154,0.5)"/>
<rect x="1257" y="762" width="3" height="25" fill="rgba(239,83,80,0.5)"/>
<rect x="1260" y="771" width="3" height="16" fill="rgba(38,166,154,0.5)"/>
<rect x="1263" y="768" width="3" height="19" fill="rgba(239,83,80,0.5)"/>
<rect x="1266" y="768" width="3" height="19" fill="rgba(239,83,80,0.5)"/>
<rect x="1269" y="763" width="3" height="24" fill="rgba(38,166,154,0.5)"/>
<rect x="1272" y="737" width="3" height="50" fill="rgba(239,83,80,0.5)"/>
<rect x="1275" y="748" width="3" height="39" fill="rgba(239,83,80,0.5)"/>
<rect x="1278" y="761" width="3" height="26" fill="rgba(38,166,154,0.5)"/>
<rect x="1281" y="755" width="3" height="32" fill="rgba(239,83,80,0.5)"/>
<rect x="1284" y="752" width="3" height="35" fill="rgba(38,166,154,0.5)"/>
<rect x="1287" y="749" width="3" height="38" fill="rgba(239,83,80,0.5)"/>
<rect x="1290" y="731" width="3" height="56" fill="rgba(239,83,80,0.5)"/>
<rect x="1293" y="693" width="3" height="94" fill="rgba(38,166,154,0.5)"/>
<rect x="1296" y="760" width="3" height="27" fill="rgba(38,166,154,0.5)"/>
<rect x="1299" y="709" width="3" height="78" fill="rgba(38,166,154,0.5)"/>
<rect x="1302" y="742" width="3" height="45" fill="rgba(38,166,154,0.5)"/>
<rect x="1305" y="731" width="3" height="56" fill="rgba(239,83,80,0.5)"/>
<rect x="1308" y="753" width="3" height="34" fill="rgba(239,83,80,0.5)"/>
<rect x="1311" y="752" width="3" height="35" fill="rgba(38,166,154,0.5)"/>
<rect x="1314" y="745" width="3" height="42" fill="rgba(239,83,80,0.5)"/>
<rect x="1317" y="722" width="3" height="65" fill="rgba(38,166,154,0.5)"/>
<rect x="1320" y="738" width="3" height="49" fill="rgba(38,166,154,0.5)"/>
<rect x="1323" y="756" width="3" height="31" fill="rgba(239,83,80,0.5)"/>
<rect x="1326" y="763" width="3" height="24" fill="rgba(38,166,154,0.5)"/>
<rect x="1329" y="706" width="3" height="81" fill="rgba(38,166,154,0.5)"/>
<rect x="1332" y="749" width="3" height="38" fill="rgba(239,83,80,0.5)"/>
<rect x="1335" y="763" width="3" height="24" fill="rgba(38,166,154,0.5)"/>
<rect x="1338" y="746" width="3" height="41" fill="rgba(239,83,80,0.5)"/>
<rect x="1341" y="765" width="3" height="22" fill="rgba(38,166,154,0.5)"/>
<rect x="1344" y="728" width="3" height="59" fill="rgba(38,166,154,0.5)"/>
<rect x="1347" y="738" width="4" height="49" fill="rgba(38,166,154,0.5)"/>
<rect x="1351" y="723" width="3" height="64" fill="rgba(38,166,154,0.5)"/>
<rect x="1354" y="730" width="3" height="57" fill="rgba(239,83,80,0.5)"/>
<rect x="1357" y="727" width="3" height="60" fill="rgba(239,83,80,0.5)"/>
<rect x="1360" y="739" width="3" height="48" fill="rgba(38,166,154,0.5)"/>
<rect x="1363" y="740" width="3" height="47" fill="rgba(239,83,80,0.5)"/>
<rect x="1366" y="732" width="3" height="55" fill="rgba(239,83,80,0.5)"/>
<rect x="1369" y="752" width="3" height="35" fill="rgba(239,83,80,0.5)"/>
<rect x="1372" y="764" width="3" height="23" fill="rgba(38,166,154,0.5)"/>
<rect x="1375" y="763" width="3" height="24" fill="rgba(239,83,80,0.5)"/>
<rect x="1378" y="739" width="3" height="48" fill="rgba(38,166,154,0.5)"/>
<rect x="1381" y="739" width="3" height="48" fill="rgba(38,166,154,0.5)"/>
<rect x="1384" y="770" width="3" height="17" fill="rgba(38,166,154,0.5)"/>
<rect x="1387" y="759" width="3" height="28" fill="rgba(38,166,154,0.5)"/>
<rect x="1390" y="756" width="3" height="31" fill="rgba(38,166,154,0.5)"/>
<rect x="1393" y="766" width="3" height="21" fill="rgba(239,83,80,0.5)"/>
<rect x="1396" y="765" width="3" height="22" fill="rgba(38,166,154,0.5)"/>
<rect x="1399" y="712" width="3" height="75" fill="rgba(38,166,154,0.5)"/>
<rect x="1402" y="734" width="3" height="53" fill="rgba(239,83,80,0.5)"/>
<rect x="1405" y="729" width="3" height="58" fill="rgba(38,166,154,0.5)"/>
<rect x="1408" y="754" width="3" height="33" fill="rgba(239,83,80,0.5)"/>
<rect x="1411" y="754" width="3" height="33" fill="rgba(38,166,154,0.5)"/>
<rect x="1414" y="750" width="3" height="37" fill="rgba(38,166,154,0.5)"/>
<rect x="1417" y="753" width="3" height="34" fill="rgba(38,166,154,0.5)"/>
<rect x="1420" y="767" width="3" height="20" fill="rgba(38,166,154,0.5)"/>
<rect x="1423" y="766" width="3" height="21" fill="rgba(239,83,80,0.5)"/>
<rect x="1426" y="767" width="3" height="20" fill="rgba(239,83,80,0.5)"/>
<rect x="1429" y="763" width="3" height="24" fill="rgba(239,83,80,0.5)"/>
<rect x="1432" y="725" width="3" height="62" fill="rgba(38,166,154,0.5)"/>
<rect x="1435" y="771" width="3" height="16" fill="rgba(239,83,80,0.5)"/>
<rect x="1438" y="771" width="3" height="16" fill="rgba(239,83,80,0.5)"/>
<rect x="1441" y="765" width="3" height="22" fill="rgba(38,166,154,0.5)"/>
<rect x="1444" y="755" width="3" height="32" fill="rgba(239,83,80,0.5)"/>
<rect x="1447" y="761" width="3" height="26" fill="rgba(239,83,80,0.5)"/>
<rect x="1450" y="756" width="3" height="31" fill="rgba(38,166,154,0.5)"/>
<rect x="1453" y="772" width="3" height="15" fill="rgba(239,83,80,0.5)"/>
<rect x="1456" y="751" width="3" height="36" fill="rgba(38,166,154,0.5)"/>
<rect x="1459" y="684" width="3" height="103" fill="rgba(38,166,154,0.5)"/>
<rect x="1462" y="745" width="3" height="42" fill="rgba(38,166,154,0.5)"/>
<rect x="1465" y="673" width="3" height="114" fill="rgba(239,83,80,0.5)"/>
<rect x="1468" y="777" width="3" height="10" fill="rgba(38,166,154,0.5)"/>
<line x1="7" y1="113.5" x2="1502" y2="113.5" stroke="#2196f3" stroke-width="1" stroke-dasharray="2 1"/>
<path d="M8.9 612.3 L12.2 623.6 L18.0 563.1 L21.4 567.5 L24.2 588.0 L26.9 593.4 L30.5 597.0 L33.3 628.0 L39.4 659.3 L42.5 638.5 L45.3 662.7 L48.3 647.3 L51.3 666.6 L57.6 628.0 L60.7 641.9 L63.3 615.8 L66.5 627.2 L69.5 619.8 L72.1 595.6 L75.7 599.8 L78.9 597.3 L81.8 587.7 L84.5 614.5 L87.0 683.0 L90.3 701.7 L93.5 691.5 L96.8 684.7 L99.5 702.5 L102.1 673.6 L105.8 684.2 L108.5 649.4 L111.7 648.2 L114.4 637.6 L118.0 634.1 L120.3 628.2 L126.2 628.2 L129.4 616.1 L132.6 620.6 L135.2 651.0 L137.4 671.2 L140.9 686.3 L144.4 683.5 L147.9 731.2 L150.9 731.2 L153.2 746.2 L156.2 744.1 L162.1 699.4 L165.6 693.2 L168.5 700.2 L171.5 683.7 L175.6 698.2 L178.5 693.2 L181.5 701.2 L185.6 701.2 L188.0 702.4 L190.9 730.4 L193.8 729.6 L196.8 747.9 L199.7 740.6 L202.6 737.6 L205.6 737.6 L207.9 699.4 L211.5 670.6 L214.4 667.6 L216.8 648.4 L220.5 652.2 L223.5 643.3 L226.8 651.2 L229.1 677.6 L232.3 674.8 L234.9 697.8 L238.7 703.0 L241.8 710.8 L244.5 686.3 L247.6 697.3 L252.3 727.4 L256.1 734.5 L259.4 733.0 L262.7 737.3 L265.5 727.1 L268.5 732.4 L271.6 719.9 L274.9 712.4 L277.3 699.2 L281.0 698.7 L283.5 673.5 L285.9 665.3 L288.8 648.2 L292.4 645.7 L295.6 656.6 L298.2 636.5 L301.0 608.0 L304.4 603.2 L307.1 589.4 L309.4 584.1 L313.5 579.4 L316.1 592.4 L319.4 597.1 L322.9 592.4 L326.5 588.2 L328.6 582.4 L331.2 553.5 L333.8 539.4 L337.3 533.6 L341.2 541.2 L344.1 557.1 L347.1 565.3 L350.0 566.5 L353.5 566.5 L356.5 576.5 L359.4 594.1 L362.0 605.9 L365.3 613.0 L368.2 639.4 L371.2 650.9 L374.1 639.9 L377.6 645.6 L380.6 642.9 L382.9 627.1 L385.9 612.9 L389.4 610.6 L392.4 594.7 L395.3 592.9 L398.8 588.8 L401.2 578.8 L404.7 574.1 L407.1 597.6 L410.4 606.4 L412.9 582.4 L416.5 579.1 L419.1 599.3 L422.4 595.3 L425.6 591.2 L428.2 583.7 L431.8 585.1 L434.4 601.1 L437.1 589.4 L440.6 592.0 L443.9 589.5 L446.5 600.0 L449.4 601.2 L452.4 604.1 L455.3 622.1 L458.8 611.2 L464.5 597.6 L467.1 557.6 L470.6 557.3 L476.5 541.1 L479.4 549.9 L482.4 548.7 L485.3 553.8 L491.2 548.8 L493.9 571.8 L497.6 566.5 L500.6 548.6 L503.5 550.0 L507.1 542.9 L510.6 538.2 L512.7 502.9 L516.2 496.6 L519.1 508.7 L522.9 504.7 L525.9 500.0 L531.5 481.8 L534.1 470.0 L537.1 449.4 L540.6 445.9 L543.8 445.9 L545.9 476.9 L550.0 473.5 L552.4 451.0 L555.1 464.7 L558.2 464.7 L561.2 471.8 L564.1 495.0 L567.1 486.5 L570.6 493.5 L573.2 503.5 L576.7 500.0 L581.8 472.3 L585.3 479.6 L588.0 464.8 L591.8 468.8 L597.1 474.7 L600.0 481.8 L602.5 521.0 L606.2 528.8 L609.1 549.2 L612.6 542.4 L615.6 526.6 L618.3 541.2 L621.5 536.9 L624.4 544.7 L627.4 547.1 L630.3 547.1 L633.6 543.0 L636.4 548.4 L639.7 545.1 L641.5 580.0 L645.8 574.1 L647.9 542.4 L651.5 542.4 L653.8 526.9 L657.4 529.7 L660.3 527.8 L663.2 533.5 L666.2 539.0 L669.1 536.3 L673.2 544.2 L676.2 535.9 L679.7 535.9 L682.6 518.8 L688.5 472.4 L691.2 504.6 L694.3 490.8 L698.0 488.1 L700.7 479.7 L702.8 461.2 L706.5 409.5 L709.4 437.8 L712.4 423.5 L715.9 412.9 L718.2 400.0 L721.2 393.5 L724.1 384.1 L727.6 384.1 L730.4 405.4 L733.2 397.1 L736.5 393.8 L739.4 398.3 L742.9 393.5 L748.2 373.6 L751.2 391.8 L753.5 402.4 L756.5 410.0 L760.0 414.1 L763.5 414.1 L766.8 414.0 L769.4 425.9 L772.9 434.1 L775.3 449.9 L778.8 447.6 L781.4 457.1 L784.7 452.9 L788.2 422.4 L791.8 395.9 L798.8 357.1 L802.9 357.1 L805.3 377.3 L808.0 359.5 L811.2 363.9 L814.1 351.8 L817.6 351.7 L820.0 371.3 L823.5 365.3 L826.5 346.3 L830.0 355.3 L832.4 370.9 L835.9 369.4 L839.8 359.1 L841.8 382.0 L845.1 375.4 L848.2 382.0 L851.2 369.3 L854.1 374.8 L863.3 357.9 L867.1 358.2 L870.0 360.2 L872.9 352.3 L875.3 377.1 L878.2 384.1 L881.2 392.0 L884.5 390.0 L887.3 410.5 L890.4 399.2 L893.5 415.7 L896.5 401.9 L901.8 416.5 L905.9 419.7 L908.2 402.9 L911.8 404.7 L914.1 371.8 L917.6 370.0 L926.5 388.3 L929.4 377.7 L932.6 380.8 L935.3 360.6 L938.5 355.5 L941.8 339.1 L944.7 329.7 L947.6 325.0 L953.3 300.3 L956.5 306.2 L959.4 327.4 L962.9 319.1 L971.4 280.2 L977.1 303.8 L980.0 307.4 L983.5 309.7 L989.4 337.0 L995.3 325.2 L1001.5 341.1 L1005.5 335.5 L1008.8 337.4 L1011.8 342.6 L1014.7 357.0 L1016.5 384.1 L1020.6 392.9 L1026.5 360.6 L1029.8 361.2 L1032.4 369.4 L1034.9 381.2 L1038.2 381.8 L1041.2 384.1 L1044.7 386.5 L1047.1 401.2 L1050.6 405.9 L1053.5 411.5 L1059.4 397.5 L1062.4 401.8 L1065.3 408.4 L1068.8 407.6 L1070.9 390.1 L1074.1 392.0 L1077.6 391.2 L1080.2 401.2 L1083.8 401.9 L1086.5 391.8 L1089.1 375.3 L1095.3 363.6 L1098.8 365.9 L1101.2 372.4 L1104.1 372.9 L1107.1 375.3 L1110.0 401.2 L1112.9 408.2 L1115.9 412.9 L1119.4 414.7 L1122.4 427.1 L1124.7 452.6 L1128.2 459.3 L1131.8 458.5 L1134.4 447.4 L1137.6 447.4 L1140.6 436.2 L1142.9 418.1 L1146.5 423.0 L1152.6 448.8 L1155.9 446.3 L1161.2 427.6 L1164.6 429.8 L1167.6 440.6 L1171.2 455.6 L1174.4 455.6 L1177.6 452.6 L1180.6 427.8 L1183.5 495.0 L1189.3 569.5 L1192.6 520.9 L1196.0 521.0 L1201.2 370.3 L1204.5 407.0 L1210.0 307.1 L1213.5 287.3 L1216.5 324.7 L1220.0 321.8 L1222.0 279.5 L1225.3 290.0 L1228.6 254.7 L1231.0 341.8 L1234.6 340.2 L1236.5 394.5 L1240.6 379.4 L1243.5 335.5 L1246.5 325.9 L1250.0 319.4 L1251.8 294.7 L1255.9 291.6 L1258.2 315.5 L1261.2 304.1 L1263.9 321.5 L1267.6 315.9 L1270.0 274.1 L1273.5 280.0 L1276.5 299.8 L1279.6 297.6 L1282.4 306.5 L1285.1 295.7 L1289.4 298.2 L1291.4 313.5 L1294.1 289.4 L1297.6 283.5 L1300.0 207.6 L1303.9 193.6 L1306.2 248.0 L1309.4 267.5 L1312.4 248.8 L1315.6 272.8 L1318.2 248.2 L1321.8 245.7 L1324.7 253.4 L1329.4 199.8 L1333.5 207.7 L1337.4 200.3 L1340.6 205.1 L1343.5 195.9 L1345.9 177.6 L1349.4 170.6 L1352.4 151.4 L1355.3 161.2 L1358.6 185.2 L1361.4 147.6 L1364.1 189.4 L1367.1 200.0 L1370.4 218.8 L1373.5 212.7 L1376.5 241.0 L1379.4 221.2 L1382.9 207.1 L1391.2 142.7 L1394.1 153.5 L1398.2 153.5 L1401.2 148.7 L1402.9 198.8 L1406.5 203.5 L1409.4 207.3 L1412.4 194.1 L1415.3 164.1 L1418.6 158.2 L1421.8 158.2 L1424.1 168.8 L1427.6 173.5 L1430.6 198.5 L1433.5 174.8 L1436.2 196.5 L1440.0 206.0 L1442.4 171.3 L1444.7 187.1 L1448.8 189.8 L1451.5 165.8 L1454.7 180.7 L1459.4 110.6 L1463.5 82.5 L1466.5 116.8 L1470.0 113.5" fill="none" stroke="#2196f3" stroke-width="3" stroke-linejoin="miter" stroke-miterlimit="10"/>
<rect x="6" y="43" width="1548" height="1" fill="#50535e"/>
<rect x="6" y="813" width="1548" height="1" fill="#50535e"/>
<rect x="6" y="43" width="1" height="771" fill="#50535e"/>
<rect x="1553" y="43" width="1" height="771" fill="#50535e"/>
<rect x="1502" y="44" width="1" height="745" fill="#50535e"/>
<rect x="6" y="788" width="1497" height="1" fill="#50535e"/>
<rect x="22" y="789" width="1" height="3" fill="#50535e"/>
<rect x="97" y="789" width="1" height="3" fill="#50535e"/>
<rect x="188" y="789" width="1" height="3" fill="#50535e"/>
<rect x="278" y="789" width="1" height="3" fill="#50535e"/>
<rect x="369" y="789" width="1" height="3" fill="#50535e"/>
<rect x="459" y="789" width="1" height="3" fill="#50535e"/>
<rect x="550" y="789" width="1" height="3" fill="#50535e"/>
<rect x="640" y="789" width="1" height="3" fill="#50535e"/>
<rect x="731" y="789" width="1" height="3" fill="#50535e"/>
<rect x="821" y="789" width="1" height="3" fill="#50535e"/>
<rect x="912" y="789" width="1" height="3" fill="#50535e"/>
<rect x="1002" y="789" width="1" height="3" fill="#50535e"/>
<rect x="1093" y="789" width="1" height="3" fill="#50535e"/>
<rect x="1184" y="789" width="1" height="3" fill="#50535e"/>
<rect x="1274" y="789" width="1" height="3" fill="#50535e"/>
<rect x="1365" y="789" width="1" height="3" fill="#50535e"/>
<rect x="1455" y="789" width="1" height="3" fill="#50535e"/>
<rect x="1503" y="65" width="4" height="1" fill="#50535e"/>
<rect x="1503" y="95" width="4" height="1" fill="#50535e"/>
<rect x="1503" y="125" width="4" height="1" fill="#50535e"/>
<rect x="1503" y="155" width="4" height="1" fill="#50535e"/>
<rect x="1503" y="185" width="4" height="1" fill="#50535e"/>
<rect x="1503" y="215" width="4" height="1" fill="#50535e"/>
<rect x="1503" y="245" width="4" height="1" fill="#50535e"/>
<rect x="1503" y="276" width="4" height="1" fill="#50535e"/>
<rect x="1503" y="306" width="4" height="1" fill="#50535e"/>
<rect x="1503" y="336" width="4" height="1" fill="#50535e"/>
<rect x="1503" y="366" width="4" height="1" fill="#50535e"/>
<rect x="1503" y="396" width="4" height="1" fill="#50535e"/>
<rect x="1503" y="426" width="4" height="1" fill="#50535e"/>
<rect x="1503" y="456" width="4" height="1" fill="#50535e"/>
<rect x="1503" y="487" width="4" height="1" fill="#50535e"/>
<rect x="1503" y="517" width="4" height="1" fill="#50535e"/>
<rect x="1503" y="547" width="4" height="1" fill="#50535e"/>
<rect x="1503" y="577" width="4" height="1" fill="#50535e"/>
<rect x="1503" y="607" width="4" height="1" fill="#50535e"/>
<rect x="1503" y="637" width="4" height="1" fill="#50535e"/>
<rect x="1503" y="667" width="4" height="1" fill="#50535e"/>
<rect x="1503" y="698" width="4" height="1" fill="#50535e"/>
<rect x="1503" y="728" width="4" height="1" fill="#50535e"/>
<rect x="1503" y="758" width="4" height="1" fill="#50535e"/>
<text x="22.5" y="806" text-anchor="middle" font-weight="normal" fill="#4c525e">14:35</text>
<text x="97.5" y="806" text-anchor="middle" font-weight="normal" fill="#4c525e">15:00</text>
<text x="188.5" y="806" text-anchor="middle" font-weight="normal" fill="#4c525e">15:30</text>
<text x="278.5" y="806" text-anchor="middle" font-weight="normal" fill="#4c525e">16:00</text>
<text x="369.5" y="806" text-anchor="middle" font-weight="normal" fill="#4c525e">16:30</text>
<text x="459.5" y="806" text-anchor="middle" font-weight="normal" fill="#4c525e">17:00</text>
<text x="550.5" y="806" text-anchor="middle" font-weight="normal" fill="#4c525e">17:30</text>
<text x="640.5" y="806" text-anchor="middle" font-weight="normal" fill="#4c525e">18:00</text>
<text x="731.5" y="806" text-anchor="middle" font-weight="normal" fill="#4c525e">18:30</text>
<text x="821.5" y="806" text-anchor="middle" font-weight="normal" fill="#4c525e">19:00</text>
<text x="912.5" y="806" text-anchor="middle" font-weight="normal" fill="#4c525e">19:30</text>
<text x="1002.5" y="806" text-anchor="middle" font-weight="normal" fill="#4c525e">20:00</text>
<text x="1093.5" y="806" text-anchor="middle" font-weight="normal" fill="#4c525e">20:30</text>
<text x="1184.5" y="806" text-anchor="middle" font-weight="bold" fill="#4c525e">9</text>
<text x="1274.5" y="806" text-anchor="middle" font-weight="normal" fill="#4c525e">15:00</text>
<text x="1365.5" y="806" text-anchor="middle" font-weight="normal" fill="#4c525e">15:30</text>
<text x="1455.5" y="806" text-anchor="middle" font-weight="normal" fill="#4c525e">16:00</text>
<text x="1511" y="69.5" fill="#4c525e">153.20</text>
<text x="1511" y="99.5" fill="#4c525e">153.00</text>
<text x="1511" y="129.5" fill="#4c525e">152.80</text>
<text x="1511" y="159.5" fill="#4c525e">152.60</text>
<text x="1511" y="189.5" fill="#4c525e">152.40</text>
<text x="1511" y="219.5" fill="#4c525e">152.20</text>
<text x="1511" y="249.5" fill="#4c525e">152.00</text>
<text x="1511" y="280.5" fill="#4c525e">151.80</text>
<text x="1511" y="310.5" fill="#4c525e">151.60</text>
<text x="1511" y="340.5" fill="#4c525e">151.40</text>
<text x="1511" y="370.5" fill="#4c525e">151.20</text>
<text x="1511" y="400.5" fill="#4c525e">151.00</text>
<text x="1511" y="430.5" fill="#4c525e">150.80</text>
<text x="1511" y="460.5" fill="#4c525e">150.60</text>
<text x="1511" y="491.5" fill="#4c525e">150.40</text>
<text x="1511" y="521.5" fill="#4c525e">150.20</text>
<text x="1511" y="551.5" fill="#4c525e">150.00</text>
<text x="1511" y="581.5" fill="#4c525e">149.80</text>
<text x="1511" y="611.5" fill="#4c525e">149.60</text>
<text x="1511" y="641.5" fill="#4c525e">149.40</text>
<text x="1511" y="671.5" fill="#4c525e">149.20</text>
<text x="1511" y="702.5" fill="#4c525e">149.00</text>
<text x="1511" y="732.5" fill="#4c525e">148.80</text>
<text x="1511" y="762.5" fill="#4c525e">148.60</text>
<rect x="1502" y="105" width="51" height="17" fill="#2196f3"/>
<rect x="1502" y="113" width="4" height="1" fill="#fff"/>
<text x="1511" y="116.8" fill="#fff" font-weight="bold">152.88</text>
<rect x="1513" y="123" width="40" height="17" fill="#2196f3"/>
<text x="1517" y="134.8" fill="#fff" font-weight="bold" textLength="27" lengthAdjust="spacingAndGlyphs">00:55</text>
</svg>
<svg width="1560" height="850" style="position:absolute;left:0;top:0;will-change:transform" font-family="Liberation Sans"><text x="5.91" y="17" font-size="12.5" font-weight="normal" fill="#000" textLength="353.65" lengthAdjust="spacingAndGlyphs">Published on TradingView.com, January 09, 2019 16:05:07 UTC</text><text x="6.10" y="34" font-size="12.5" font-weight="bold" fill="#000" textLength="76.67" lengthAdjust="spacingAndGlyphs">BATS:AAPL, 1</text><text x="87.68" y="34" font-size="12.5" font-weight="normal" fill="#000" textLength="38.96" lengthAdjust="spacingAndGlyphs">152.88</text><path d="M130 34.9 L141 34.9 L135.5 24.1 Z" fill="#00a800"/><text x="143.11" y="34" font-size="12.5" font-weight="normal" fill="#000" textLength="85.46" lengthAdjust="spacingAndGlyphs">+2.13 (+1.41%)</text><text x="233.30" y="34" font-size="12.5" font-weight="bold" fill="#000" textLength="12.61" lengthAdjust="spacingAndGlyphs">O:</text><text x="246.47" y="34" font-size="12.5" font-weight="normal" fill="#00a800" textLength="39.37" lengthAdjust="spacingAndGlyphs">152.87</text><text x="289.75" y="34" font-size="12.5" font-weight="bold" fill="#000" textLength="13.80" lengthAdjust="spacingAndGlyphs">H:</text><text x="303.79" y="34" font-size="12.5" font-weight="normal" fill="#00a800" textLength="38.54" lengthAdjust="spacingAndGlyphs">152.95</text><text x="347.10" y="34" font-size="12.5" font-weight="bold" fill="#000" textLength="9.45" lengthAdjust="spacingAndGlyphs">L:</text><text x="357.79" y="34" font-size="12.5" font-weight="normal" fill="#00a800" textLength="38.75" lengthAdjust="spacingAndGlyphs">152.85</text><text x="401.30" y="34" font-size="12.5" font-weight="bold" fill="#000" textLength="10.78" lengthAdjust="spacingAndGlyphs">C:</text><text x="412.57" y="34" font-size="12.5" font-weight="normal" fill="#00a800" textLength="39.37" lengthAdjust="spacingAndGlyphs">152.88</text><text x="15.20" y="65" font-size="12.5" font-weight="bold" fill="#4a4e5a" textLength="112.38" lengthAdjust="spacingAndGlyphs">APPLE INC., 1, BATS</text><text x="15.20" y="82" font-size="12.5" font-weight="normal" fill="#4a4e5a" textLength="42.39" lengthAdjust="spacingAndGlyphs">Vol (20)</text><text x="5.28" y="837" font-size="13" font-weight="normal" fill="#000" textLength="74.32" lengthAdjust="spacingAndGlyphs">Created with</text><text x="106.60" y="837" font-size="13" font-weight="normal" fill="#35a9e0" textLength="69.56" lengthAdjust="spacingAndGlyphs">TradingView</text><g fill="#5bc2e7"><circle cx="85.6" cy="834.6" r="3.7"/><circle cx="93.3" cy="830.4" r="5.5"/><circle cx="102.2" cy="835.2" r="3.6"/><path d="M93.3 824.9 L99.2 826.8 L103.4 829.6 L102.2 838.8 L85.6 838.8 Z"/><rect x="85.6" y="832" width="16.6" height="6.8"/></g><polyline points="82.2,837.1 90.6,830.7 96,836.6 103.2,830.0" fill="none" stroke="#fff" stroke-width="1.7" stroke-linejoin="miter"/></svg>
</body></html>
